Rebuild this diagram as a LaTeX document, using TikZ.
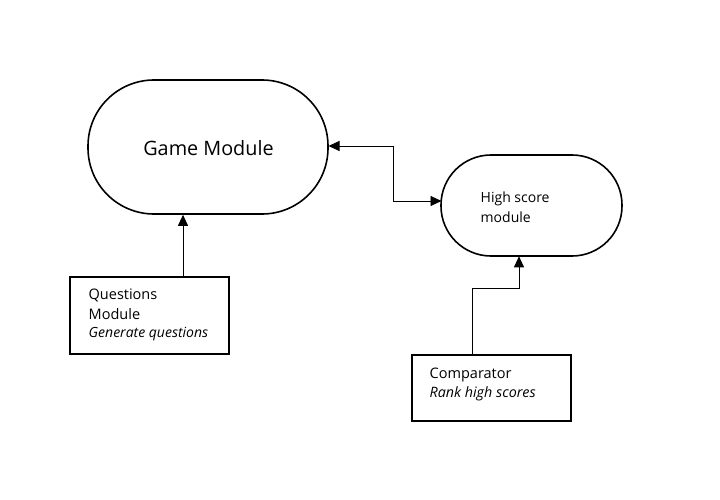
\documentclass[tikz,border=0pt]{standalone}
\usepackage{fontspec}
\setmainfont{Open Sans}
\usetikzlibrary{arrows.meta}
\begin{document}
\begin{tikzpicture}[x=1pt,y=-1pt,
  pill/.style={draw,line width=1.6pt,rounded corners=#1,inner sep=0pt},
  boxnode/.style={draw,line width=1.6pt,inner sep=0pt},
  conn/.style={line width=0.9pt,-{Triangle[length=11pt,width=10pt]}},
  lbl/.style={inner sep=0pt,anchor=base west,align=left,font=\fontsize{14.5}{20}\selectfont}]
\useasboundingbox (0,0) rectangle (720,500);
\node[pill=66pt,minimum width=240pt,minimum height=134pt] (game) at (208,147) {};
\node[inner sep=0pt,anchor=base,font=\fontsize{19.8}{22}\selectfont] (gamet) at (208.5,155) {Game Module};
\node[pill=50pt,minimum width=181pt,minimum height=101pt] (hs) at (531.5,205.5) {};
\node[lbl,font=\fontsize{14}{20}\selectfont] (hst) at (480.5,222) {High score\\module};
\node[boxnode,minimum width=159pt,minimum height=77pt] (q) at (149.5,315.5) {};
\node[lbl] (qt) at (88.5,337) {Questions\\Module\\[-2pt]{\fontsize{14}{18}\selectfont\itshape Generate questions}};
\node[boxnode,minimum width=159pt,minimum height=66pt] (c) at (491.5,388) {};
\node[lbl] (ct) at (429.5,397) {Comparator\\[-1pt]{\fontsize{14.3}{18}\selectfont\itshape Rank high scores}};
\draw[conn] (q.north -| 183,0) -- (183,214.8);
\coordinate (cbend) at (472,288);
\draw[conn] (c.north -| cbend) -- (cbend) -| (519,256.3);
\coordinate (mid) at (393,146);
\draw[conn,{Triangle[length=11pt,width=10pt]}-{Triangle[length=11pt,width=10pt]}] (328.5,146) -- (mid) |- (441.5,201);
\end{tikzpicture}
\end{document}
